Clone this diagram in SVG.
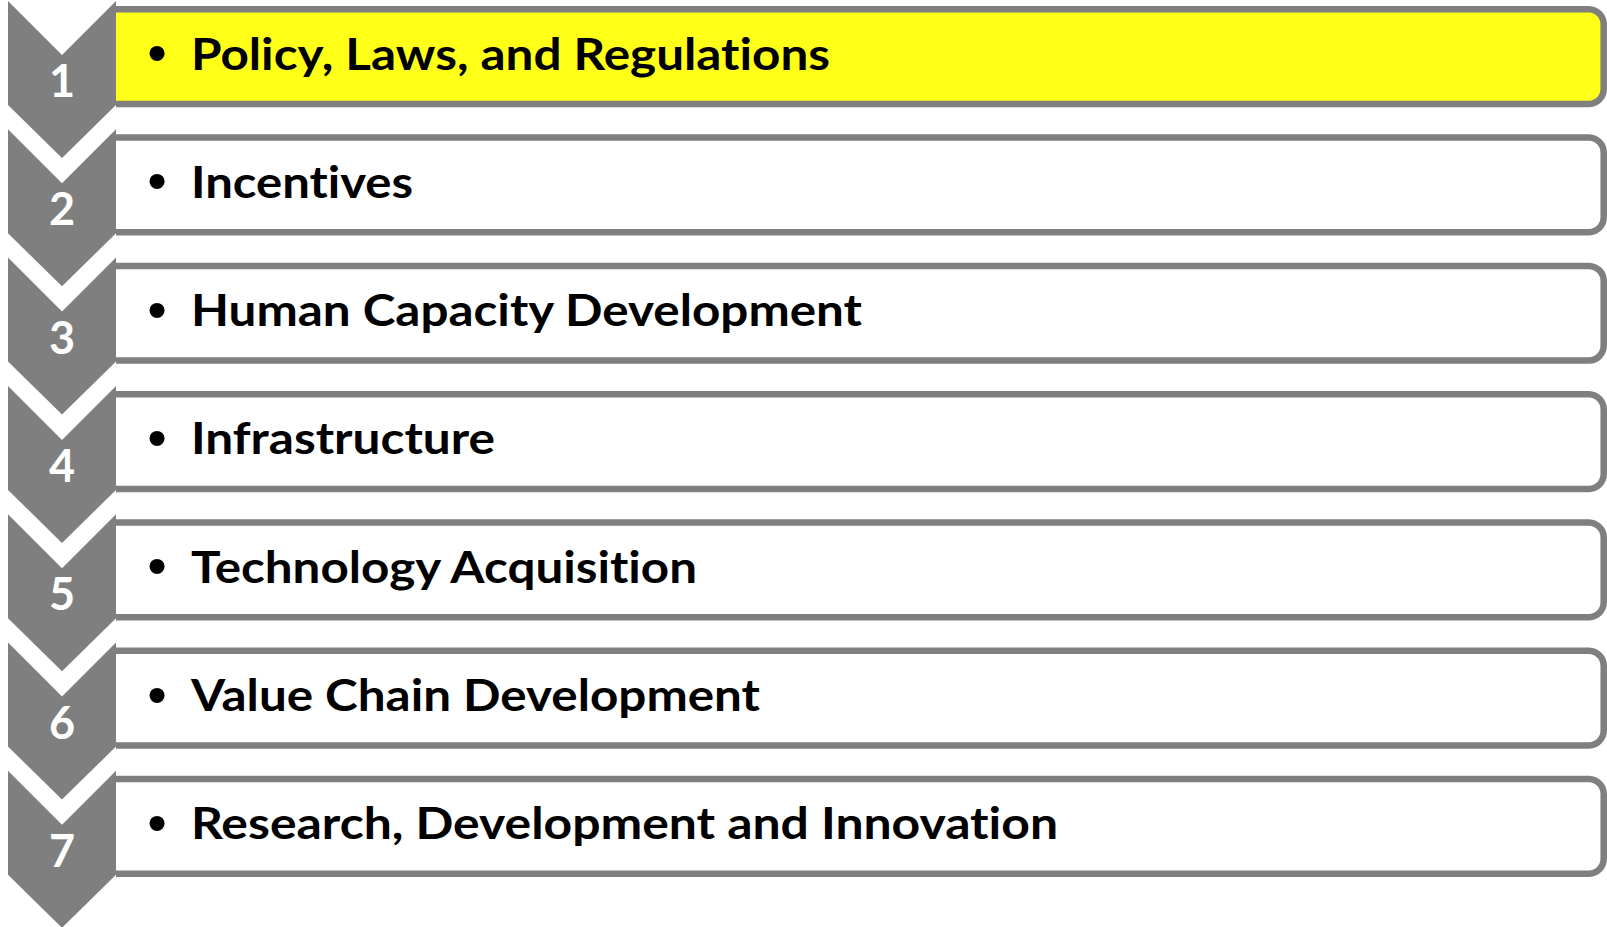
<svg xmlns="http://www.w3.org/2000/svg" width="1607" height="927" viewBox="0 0 1607 927">
<style>
.chev{fill:#7f7f7f}
.box{fill:#ffffff}
.box.hl{fill:#ffff17}
.edge{fill:none;stroke:#7f7f7f;stroke-width:6.5}
.num{font-family:Lato,"Open Sans","Liberation Sans",sans-serif;font-weight:bold;font-size:45px;fill:#ffffff;text-anchor:middle}
.bul{font-family:"Liberation Sans",sans-serif;font-size:56px;fill:#000000;text-anchor:middle}
.lbl{font-family:Lato,"Open Sans","Liberation Sans",sans-serif;font-weight:bold;font-size:44.5px;fill:#000000;font-variant-ligatures:none;font-feature-settings:"liga" 0}
</style>
<defs>
<path id="boxshape" d="M116,9.3 H1589 A15,15 0 0 1 1603.7,24.3 V89 A15,15 0 0 1 1589,104 H116 Z"/>
<path id="boxedge" d="M116,9.3 H1589 A15,15 0 0 1 1603.7,24.3 V89 A15,15 0 0 1 1589,104 H116"/>
<polygon id="chevshape" points="8,1 62,55 116,1 116,105 62,158 8,105"/>
</defs>
<g id="connectors"></g>
<g id="node1">
<use href="#boxshape" class="box hl"/><use href="#boxedge" class="edge"/>
<use href="#chevshape" class="chev"/>
<text class="num" x="62" y="97">1</text>
<text class="bul" x="157" y="72">•</text>
<text class="lbl" x="191" y="69.5" textLength="639" lengthAdjust="spacingAndGlyphs">Policy, Laws, and Regulations</text>
</g>
<g id="node2" transform="translate(0,128.3)">
<use href="#boxshape" class="box"/><use href="#boxedge" class="edge"/>
<use href="#chevshape" class="chev"/>
<text class="num" x="62" y="97">2</text>
<text class="bul" x="157" y="72">•</text>
<text class="lbl" x="191" y="69.5" textLength="222" lengthAdjust="spacingAndGlyphs">Incentives</text>
</g>
<g id="node3" transform="translate(0,256.6)">
<use href="#boxshape" class="box"/><use href="#boxedge" class="edge"/>
<use href="#chevshape" class="chev"/>
<text class="num" x="62" y="97">3</text>
<text class="bul" x="157" y="72">•</text>
<text class="lbl" x="191" y="69.5" textLength="671" lengthAdjust="spacingAndGlyphs">Human Capacity Development</text>
</g>
<g id="node4" transform="translate(0,384.9)">
<use href="#boxshape" class="box"/><use href="#boxedge" class="edge"/>
<use href="#chevshape" class="chev"/>
<text class="num" x="62" y="97">4</text>
<text class="bul" x="157" y="72">•</text>
<text class="lbl" x="191" y="69.5" textLength="304" lengthAdjust="spacingAndGlyphs">Infrastructure</text>
</g>
<g id="node5" transform="translate(0,513.2)">
<use href="#boxshape" class="box"/><use href="#boxedge" class="edge"/>
<use href="#chevshape" class="chev"/>
<text class="num" x="62" y="97">5</text>
<text class="bul" x="157" y="72">•</text>
<text class="lbl" x="191" y="69.5" textLength="506" lengthAdjust="spacingAndGlyphs">Technology Acquisition</text>
</g>
<g id="node6" transform="translate(0,641.5)">
<use href="#boxshape" class="box"/><use href="#boxedge" class="edge"/>
<use href="#chevshape" class="chev"/>
<text class="num" x="62" y="97">6</text>
<text class="bul" x="157" y="72">•</text>
<text class="lbl" x="191" y="69.5" textLength="569" lengthAdjust="spacingAndGlyphs">Value Chain Development</text>
</g>
<g id="node7" transform="translate(0,769.8)">
<use href="#boxshape" class="box"/><use href="#boxedge" class="edge"/>
<use href="#chevshape" class="chev"/>
<text class="num" x="62" y="97">7</text>
<text class="bul" x="157" y="72">•</text>
<text class="lbl" x="191" y="69.5" textLength="867" lengthAdjust="spacingAndGlyphs">Research, Development and Innovation</text>
</g>
</svg>
